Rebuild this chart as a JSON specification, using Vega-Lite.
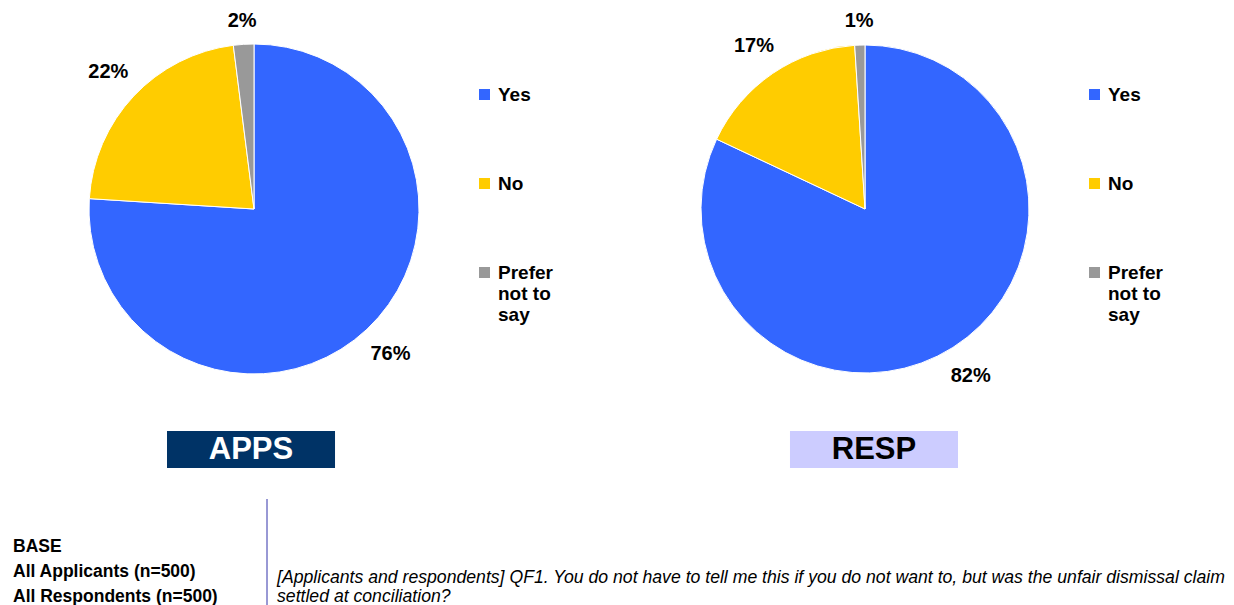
{
  "$schema": "https://vega.github.io/schema/vega-lite/v6.json",
  "padding": 0,
  "background": "white",
  "config": {"font": "Liberation Sans", "view": {"stroke": null}},
  "datasets": {
    "pies": [
      {"group": "APPS", "category": "Yes", "value": 0.76, "order": 1},
      {"group": "APPS", "category": "No", "value": 0.22, "order": 2},
      {"group": "APPS", "category": "Prefer not to say", "value": 0.02, "order": 3},
      {"group": "RESP", "category": "Yes", "value": 0.82, "order": 1},
      {"group": "RESP", "category": "No", "value": 0.17, "order": 2},
      {"group": "RESP", "category": "Prefer not to say", "value": 0.01, "order": 3}
    ],
    "boxes": [{"label": "APPS"}, {"label": "RESP"}],
    "base": [
      {"row": 1, "text": "BASE"},
      {"row": 2, "text": "All Applicants (n=500)"},
      {"row": 3, "text": "All Respondents (n=500)"}
    ],
    "question": [
      {"row": 1, "text": "[Applicants and respondents] QF1.  You do not have to tell me this if you do not want to, but was the unfair dismissal claim"},
      {"row": 2, "text": "settled at conciliation?"}
    ],
    "divider": [{"name": "divider"}]
  },
  "resolve": {"scale": {"color": "independent"}, "legend": {"color": "independent"}},
  "spacing": 30,
  "vconcat": [
    {
      "spacing": 13,
      "resolve": {"scale": {"color": "independent"}, "legend": {"color": "independent"}},
      "vconcat": [
        {
          "spacing": 0,
          "bounds": "flush",
          "resolve": {"scale": {"color": "independent"}, "legend": {"color": "independent"}},
          "hconcat": [
            {
              "width": 508,
              "height": 418,
              "data": {"name": "pies"},
              "transform": [{"filter": "datum.group === 'APPS'"}],
              "encoding": {
                "theta": {"field": "value", "type": "quantitative", "stack": true},
                "order": {"field": "order", "type": "quantitative"},
                "color": {
                  "field": "category", "type": "nominal",
                  "sort": ["Yes", "No", "Prefer not to say"],
                  "scale": {"domain": ["Yes", "No", "Prefer not to say"], "range": ["#3366ff", "#ffcc00", "#999999"]},
                  "legend": {
                    "orient": "none", "legendX": 475, "legendY": 85, "title": null,
                    "symbolType": "square", "symbolSize": 121, "symbolStrokeWidth": 0, "symbolOpacity": 1,
                    "labelFontSize": 19, "labelFontWeight": "bold", "labelColor": "black", "labelFont": "Liberation Sans",
                    "rowPadding": 69, "labelOffset": 4, "labelLimit": 200, "padding": 0,
                    "labelExpr": "datum.label === 'Prefer not to say' ? ['Prefer', 'not to', 'say'] : datum.label",
                    "encode": {"labels": {
                      "enter": {"lineHeight": {"value": 23}},
                      "update": {"lineHeight": {"value": 23}, "dy": {"signal": "datum.label === 'Prefer not to say' ? 23 : 0"}}}}
                  }
                }
              },
              "layer": [
                {"mark": {"type": "arc", "outerRadius": 165, "stroke": "white", "strokeWidth": 1}},
                {"mark": {"type": "text", "fontSize": 20, "fontWeight": "bold",
                          "radius": {"expr": "177 + 22*abs(sin(PI*(datum.value_start + datum.value_end))) + 10*abs(cos(PI*(datum.value_start + datum.value_end)))"}},
                 "encoding": {"text": {"field": "value", "type": "quantitative", "format": ".0%"}, "color": {"value": "black"}}}
              ]
            },
            {
              "width": 714,
              "height": 418,
              "data": {"name": "pies"},
              "transform": [{"filter": "datum.group === 'RESP'"}],
              "encoding": {
                "theta": {"field": "value", "type": "quantitative", "stack": true},
                "order": {"field": "order", "type": "quantitative"},
                "color": {
                  "field": "category", "type": "nominal",
                  "sort": ["Yes", "No", "Prefer not to say"],
                  "scale": {"domain": ["Yes", "No", "Prefer not to say"], "range": ["#3366ff", "#ffcc00", "#999999"]},
                  "legend": {
                    "orient": "none", "legendX": 577, "legendY": 85, "title": null,
                    "symbolType": "square", "symbolSize": 121, "symbolStrokeWidth": 0, "symbolOpacity": 1,
                    "labelFontSize": 19, "labelFontWeight": "bold", "labelColor": "black", "labelFont": "Liberation Sans",
                    "rowPadding": 69, "labelOffset": 4, "labelLimit": 200, "padding": 0,
                    "labelExpr": "datum.label === 'Prefer not to say' ? ['Prefer', 'not to', 'say'] : datum.label",
                    "encode": {"labels": {
                      "enter": {"lineHeight": {"value": 23}},
                      "update": {"lineHeight": {"value": 23}, "dy": {"signal": "datum.label === 'Prefer not to say' ? 23 : 0"}}}}
                  }
                }
              },
              "layer": [
                {"mark": {"type": "arc", "outerRadius": 164, "stroke": "white", "strokeWidth": 1}},
                {"mark": {"type": "text", "fontSize": 20, "fontWeight": "bold",
                          "radius": {"expr": "177 + 22*abs(sin(PI*(datum.value_start + datum.value_end))) + 10*abs(cos(PI*(datum.value_start + datum.value_end)))"}},
                 "encoding": {"text": {"field": "value", "type": "quantitative", "format": ".0%"}, "color": {"value": "black"}}}
              ]
            }
          ]
        },
        {
          "width": 1234,
          "height": 37,
          "data": {"name": "boxes"},
          "encoding": {
            "x": {"field": "label", "type": "nominal", "axis": null,
                  "scale": {"range": [167, 958], "paddingInner": 0.7303, "paddingOuter": 0}}
          },
          "layer": [
            {"mark": {"type": "bar"},
             "encoding": {"color": {"field": "label", "type": "nominal", "scale": {"domain": ["APPS", "RESP"], "range": ["#003366", "#ccccff"]}, "legend": null}}},
            {"mark": {"type": "text", "fontSize": 31, "fontWeight": "bold"},
             "encoding": {"text": {"field": "label"}, "color": {"condition": {"test": "datum.label === 'APPS'", "value": "white"}, "value": "black"}}}
          ]
        }
      ]
    },
    {
      "spacing": 0,
      "hconcat": [
        {
          "width": 266,
          "height": 107,
          "data": {"name": "base"},
          "mark": {"type": "text", "align": "left", "fontSize": 17.5, "fontWeight": "bold", "color": "black"},
          "encoding": {
            "y": {"field": "row", "type": "ordinal", "axis": null, "scale": {"type": "point", "range": [48, 98], "padding": 0}},
            "x": {"value": 13},
            "text": {"field": "text"}
          }
        },
        {
          "width": 968,
          "height": 107,
          "layer": [
            {"data": {"name": "divider"}, "mark": {"type": "rule", "color": "#3333aa", "strokeWidth": 1}, "encoding": {"x": {"value": 0}}},
            {"data": {"name": "question"}, "mark": {"type": "text", "align": "left", "fontSize": 17.65, "fontStyle": "italic", "color": "black"},
             "encoding": {
               "y": {"field": "row", "type": "ordinal", "axis": null, "scale": {"type": "point", "range": [79, 98], "padding": 0}},
               "x": {"value": 10},
               "text": {"field": "text"}
             }}
          ]
        }
      ]
    }
  ]
}
